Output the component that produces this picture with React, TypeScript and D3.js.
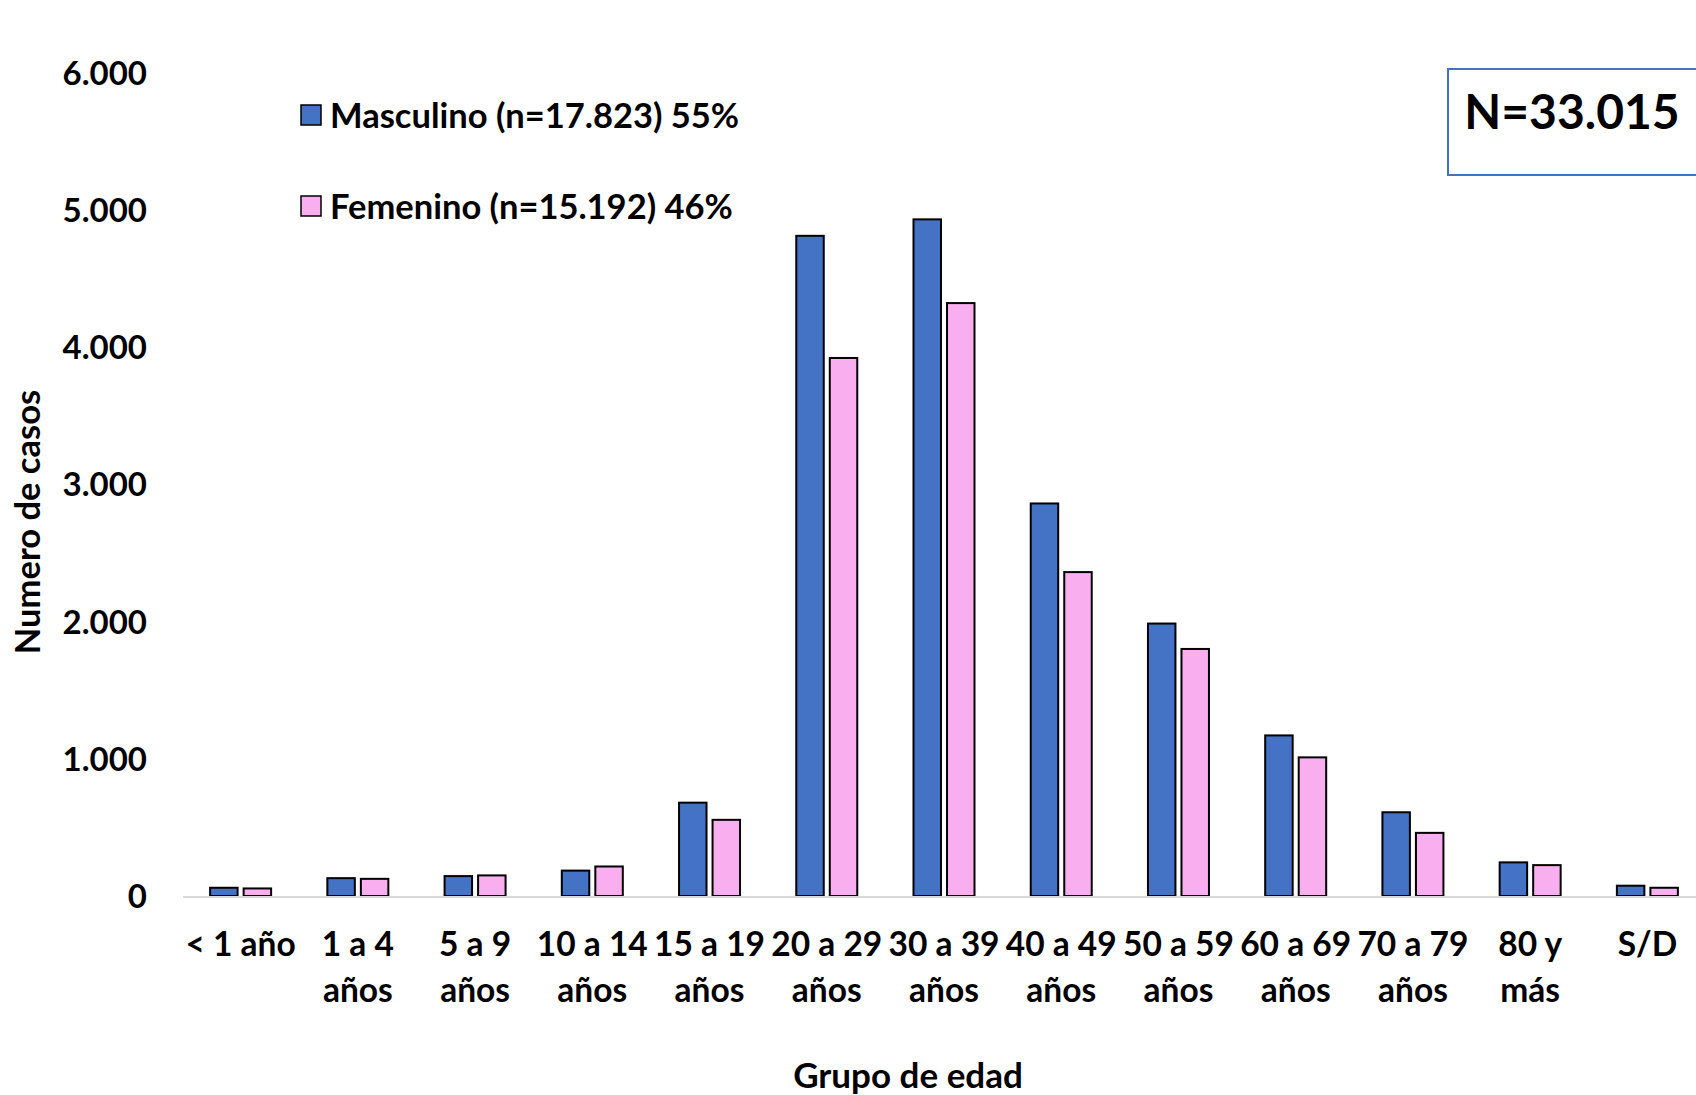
import React from "react";
import * as d3 from "d3";

const categories: string[][] = [
  ["< 1 año"],
  ["1 a 4", "años"],
  ["5 a 9", "años"],
  ["10 a 14", "años"],
  ["15 a 19", "años"],
  ["20 a 29", "años"],
  ["30 a 39", "años"],
  ["40 a 49", "años"],
  ["50 a 59", "años"],
  ["60 a 69", "años"],
  ["70 a 79", "años"],
  ["80 y", "más"],
  ["S/D"],
];
const masculino: number[] = [60, 130, 145, 185, 680, 4810, 4930, 2860, 1985, 1170, 610, 245, 75];
const femenino: number[] = [55, 125, 150, 215, 555, 3920, 4320, 2360, 1800, 1010, 460, 225, 60];
const yTicks: number[] = [0, 1000, 2000, 3000, 4000, 5000, 6000];
const seriesNames: string[] = ["Masculino (n=17.823) 55%", "Femenino (n=15.192) 46%"];
const seriesColors: string[] = ["#4472C4", "#F9AEEF"];
const totalLabel = "N=33.015";

const W = 1696;
const H = 1095;
const FONT = "Lato, 'Open Sans', sans-serif";

export default function App() {
  const keys = categories.map((c) => c.join(" "));
  const x = d3.scaleBand<string>().domain(keys).range([182, 1706]).paddingInner(0).paddingOuter(0);
  const y = d3.scaleLinear().domain([0, 6000]).range([896, 72.5]);
  const groupW = 61;
  const inner = d3
    .scaleBand<string>()
    .domain(["m", "f"])
    .range([0, groupW])
    .paddingInner(0.18)
    .paddingOuter(0);
  const fmt = (v: number) => d3.format(",")(v).replace(/,/g, ".");

  return (
    <svg
      width={W}
      height={H}
      style={{ position: "absolute", left: 0, top: 0, background: "#fff" }}
      fontFamily={FONT}
      fontWeight="bold"
    >
      <rect x={0} y={0} width={W} height={H} fill="#fff" />
      {/* y tick labels */}
      {yTicks.map((t) => (
        <text
          key={t}
          x={147}
          y={y(t) - 1}
          textAnchor="end"
          dominantBaseline="central"
          fontSize={33}
          fill="#000"
        >
          {fmt(t)}
        </text>
      ))}
      {/* y title */}
      <text
        transform={`translate(26,522) rotate(-90)`}
        textAnchor="middle"
        dominantBaseline="central"
        fontSize={34.5}
        fill="#000"
      >
        Numero de casos
      </text>
      {/* bars */}
      {keys.map((k, i) => {
        const cx = (x(k) as number) + x.bandwidth() / 2;
        const x0 = cx - groupW / 2;
        return (
          <g key={k}>
            {[masculino[i], femenino[i]].map((v, j) => (
              <rect
                key={j}
                x={x0 + (inner(j === 0 ? "m" : "f") as number)}
                y={y(v)}
                width={inner.bandwidth()}
                height={y(0) - y(v)}
                fill={seriesColors[j]}
                stroke="#000"
                strokeWidth={2}
              />
            ))}
          </g>
        );
      })}
      {/* x axis line */}
      <line x1={183} x2={W} y1={y(0) + 1} y2={y(0) + 1} stroke="#D9D9D9" strokeWidth={2} />
      {/* x labels */}
      {keys.map((k, i) => {
        const cx = (x(k) as number) + x.bandwidth() / 2;
        return (
          <text key={k} x={cx} textAnchor="middle" fontSize={33.5} fill="#000">
            {categories[i].map((line, li) => (
              <tspan key={li} x={cx} y={956 + li * 46}>
                {line}
              </tspan>
            ))}
          </text>
        );
      })}
      {/* x title */}
      <text x={908} y={1088} textAnchor="middle" fontSize={35} fill="#000">
        Grupo de edad
      </text>
      {/* legend */}
      {seriesNames.map((s, i) => (
        <g key={s}>
          <rect
            x={301}
            y={105 + i * 91}
            width={20}
            height={20}
            fill={seriesColors[i]}
            stroke="#000"
            strokeWidth={1.5}
          />
          <text x={330} y={114 + i * 91} dominantBaseline="central" fontSize={34.5} fill="#000">
            {s}
          </text>
        </g>
      ))}
      {/* N box */}
      <rect x={1448} y={69} width={260} height={106} fill="#fff" stroke="#4472C4" strokeWidth={2} />
      <text x={1572} y={110} textAnchor="middle" dominantBaseline="central" fontSize={48} fill="#000">
        {totalLabel}
      </text>
    </svg>
  );
}
